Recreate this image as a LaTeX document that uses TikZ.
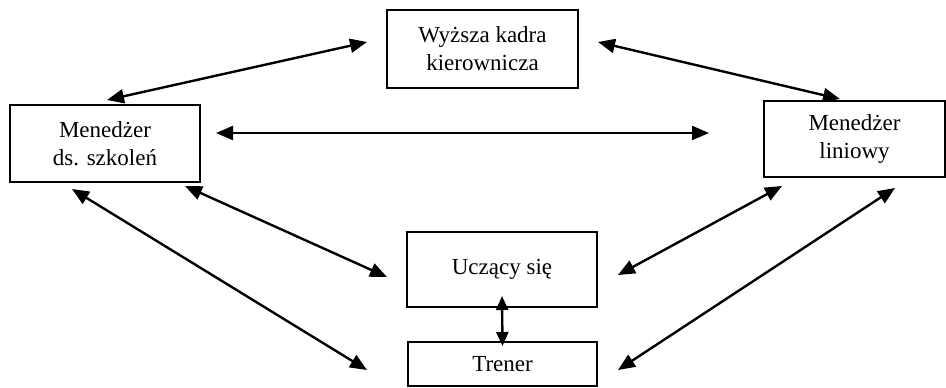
\documentclass[tikz,border=0pt]{standalone}
\usepackage{fontspec}
\setmainfont{Liberation Serif}
\usetikzlibrary{arrows.meta}
\begin{document}
\begin{tikzpicture}[x=1pt,y=1pt,
  box/.style={draw, line width=2pt, align=center, inner sep=0pt,
    font=\fontsize{23}{28}\selectfont},
  link/.style={line width=2.4pt, {Triangle[length=17pt,width=14pt]}-{Triangle[length=17pt,width=14pt]}},
  shortlink/.style={line width=2.4pt, {Triangle[length=14pt,width=12pt]}-{Triangle[length=14pt,width=12pt]}}]
\useasboundingbox (0,0) rectangle (946,-388);
\node[box, minimum width=190pt, minimum height=77pt] (L) at (105,-143.5) {Menedżer\\ds. szkoleń};
\node[box, minimum width=191pt, minimum height=78pt] (K) at (482.5,-49) {Wyższa kadra\\kierownicza};
\node[box, minimum width=181pt, minimum height=76pt] (R) at (854.5,-139) {Menedżer\\liniowy};
\node[box, minimum width=190pt, minimum height=75pt] (U) at (502,-269.5) {Uczący się};
\node[box, minimum width=189pt, minimum height=44pt] (T) at (502.5,-364) {Trener};
\draw[link] ([shift={(2,4)}]L.north) -- ([shift={(-19,7)}]K.west);
\draw[link] ([shift={(19,7)}]K.east) -- ([shift={(-14.5,1)}]R.north);
\draw[link] ([shift={(15,10.5)}]L.east) -- ([shift={(-54,6)}]R.west);
\draw[link] ([shift={(-33,-6)}]L.south) -- ([shift={(-40,-6)}]T.west);
\draw[link] ([shift={(80,-3)}]L.south) -- ([shift={(-19,-7.5)}]U.west);
\draw[link] ([shift={(-72.5,-8)}]R.south) -- ([shift={(20,-5.5)}]U.east);
\draw[link] ([shift={(40.5,-10)}]R.south) -- ([shift={(20,-6)}]T.east);
\draw[shortlink] ([yshift=12]U.south) -- ([yshift=-5]T.north);
\end{tikzpicture}
\end{document}
